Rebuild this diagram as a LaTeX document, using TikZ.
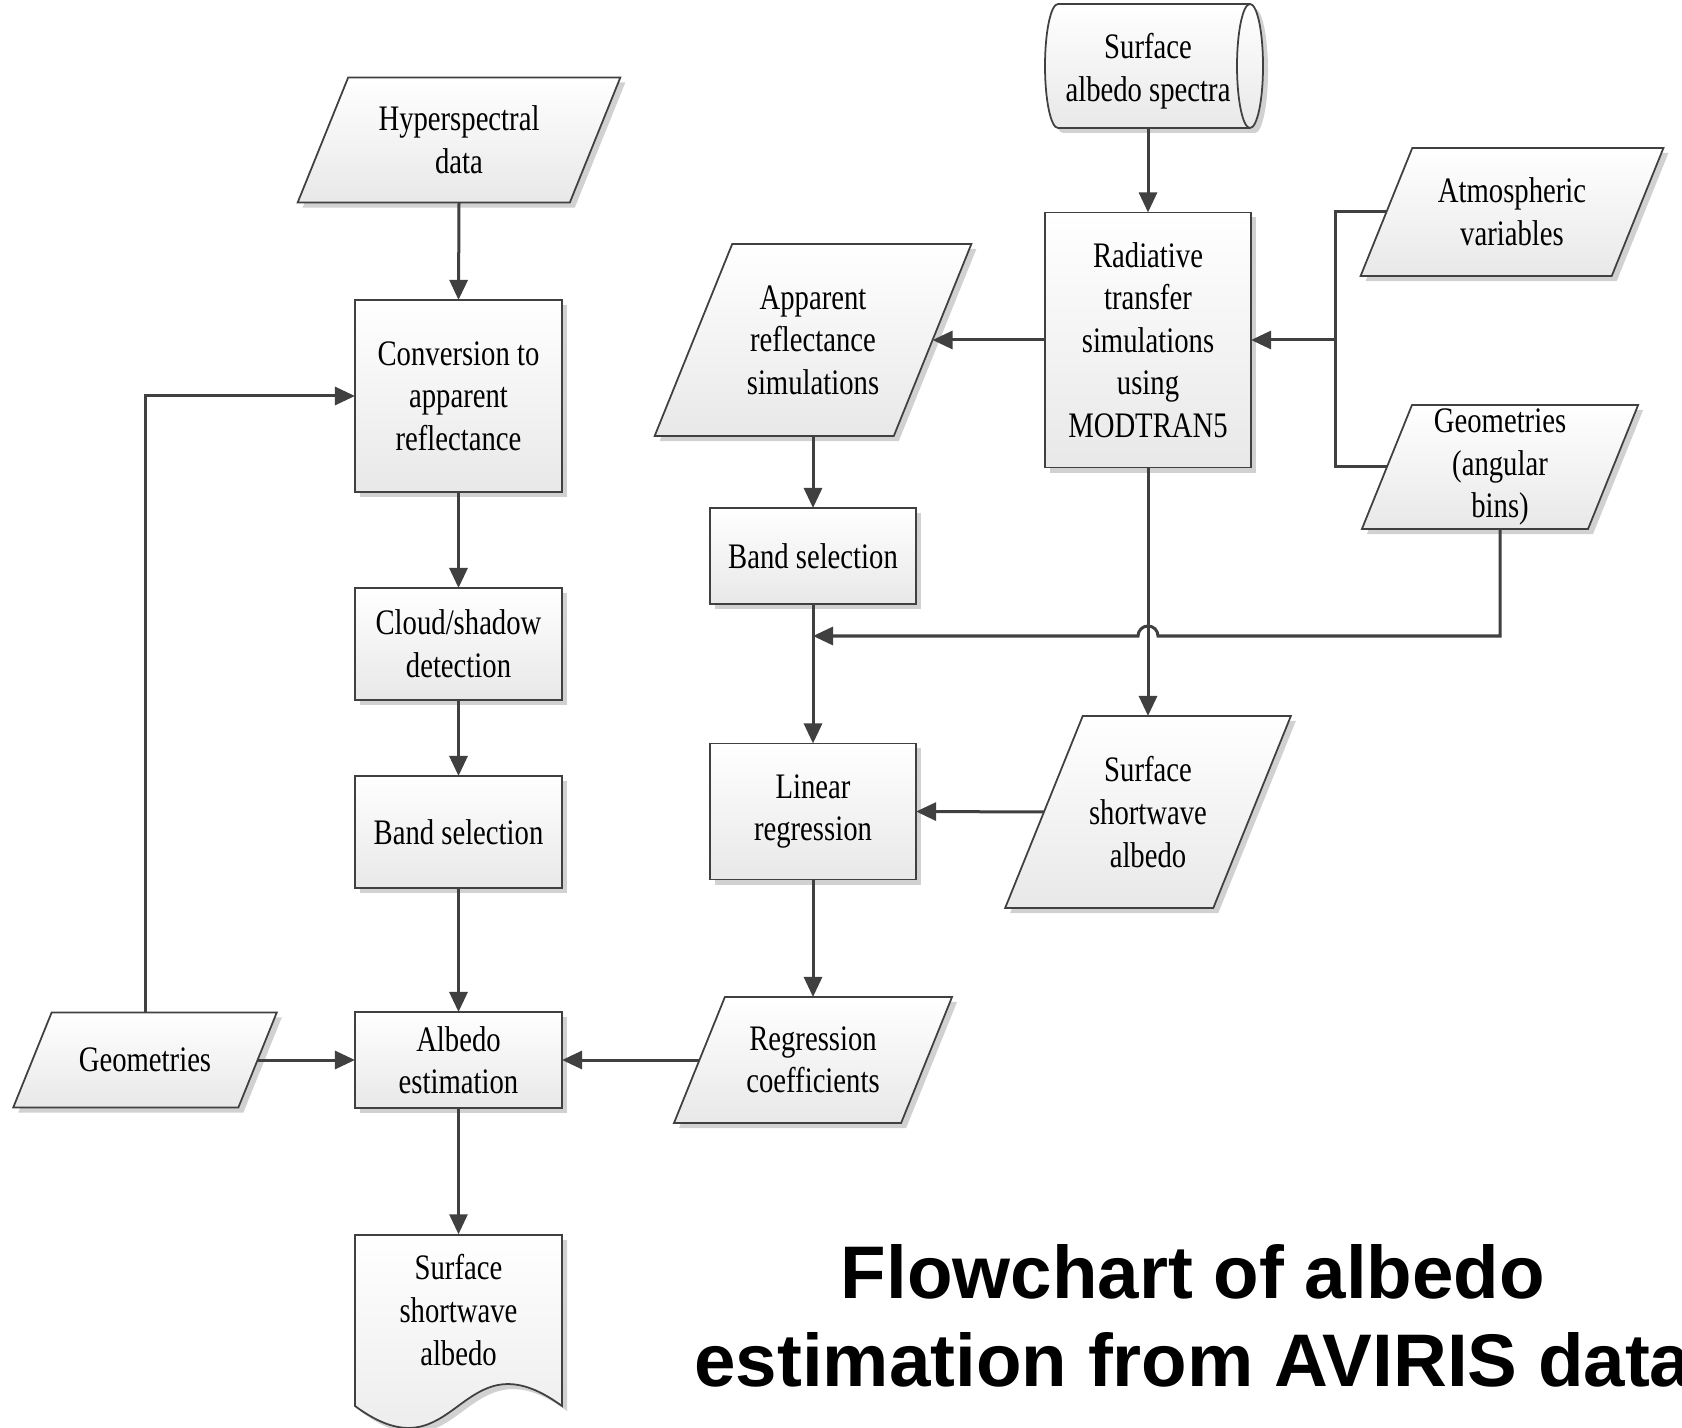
\documentclass[tikz,border=0pt]{standalone}
\usepackage{fontspec}
\setmainfont{Liberation Serif}[FakeStretch=0.8]
\newfontfamily\titlefont{Liberation Sans}
\usetikzlibrary{arrows.meta,shadows,backgrounds,calc}
\definecolor{linegray}{HTML}{404040}

\begin{document}
\begin{tikzpicture}[
    x=0.01cm, y=-0.01cm,
    font=\fontsize{10.2pt}{12.1pt}\selectfont,
    boxfill/.style={top color=white, bottom color=black!9, draw=linegray, line width=0.5pt,
        drop shadow={shadow xshift=0.05cm, shadow yshift=-0.05cm, fill=black!45, opacity=0.4}},
    process/.style={boxfill, rectangle, align=center, inner sep=2pt, outer sep=0pt, minimum width=2.07cm},
    io/.style={rectangle, align=center, inner sep=0pt, outer sep=0pt},
    arrow/.style={-{Triangle[length=0.2cm, width=0.18cm]}, line width=0.03cm, draw=linegray},
    link/.style={line width=0.03cm, draw=linegray}
]
\useasboundingbox (0,0) rectangle (1682,1428);

% left column
\node[io, minimum width=2.72cm, minimum height=1.25cm] (hyper) at (459,140) {Hyperspectral\\data};
\node[process, minimum height=1.92cm] (conv) at (458.5,396) {Conversion to\\apparent\\reflectance};
\node[process, minimum height=1.12cm] (cloud) at (458.5,644) {Cloud/shadow\\detection};
\node[process, minimum height=1.12cm] (bandL) at (458.5,832) {Band selection};
\node[process, minimum height=0.96cm] (albest) at (458.5,1060) {Albedo\\estimation};
\node[io, minimum width=2.25cm, minimum height=0.95cm] (geoL) at (145,1060) {Geometries};

% output document
\path[boxfill] (355,1235) -- (562,1235) -- (562,1406) .. controls (458,1330) and (458,1482) .. (355,1406) -- cycle;
\node[align=center, minimum width=2.07cm, minimum height=1.5cm, inner sep=0pt] (albout) at (458.5,1310) {Surface\\shortwave\\albedo};

% spectra store
\path[boxfill] (1058,4) -- (1250,4) .. controls (1257.2,4) and (1263,31.8) .. (1263,66)
    .. controls (1263,100.2) and (1257.2,128) .. (1250,128) -- (1058,128)
    .. controls (1050.8,128) and (1045,100.2) .. (1045,66)
    .. controls (1045,31.8) and (1050.8,4) .. (1058,4) -- cycle;
\draw[linegray, line width=0.5pt] (1250,4) .. controls (1242.8,4) and (1237,31.8) .. (1237,66)
    .. controls (1237,100.2) and (1242.8,128) .. (1250,128);
\node[align=center, minimum width=1.8cm, minimum height=1.14cm, inner sep=0pt] (spectra) at (1148,71) {Surface\\albedo spectra};

% right part
\node[process, minimum width=2.06cm, minimum height=2.55cm] (rts) at (1148,340) {Radiative\\transfer\\simulations\\using\\MODTRAN5};
\node[io, minimum width=2.51cm, minimum height=1.28cm] (atmos) at (1512,212) {Atmospheric\\variables};
\node[io, minimum width=2.26cm, minimum height=1.24cm] (geoA) at (1500,467) {Geometries\\(angular\\bins)};
\node[io, minimum width=2.39cm, minimum height=1.92cm] (appr) at (813,340) {Apparent\\reflectance\\simulations};
\node[process, minimum width=2.06cm, minimum height=0.96cm] (bandR) at (813,556) {Band selection};
\node[process, minimum width=2.06cm, minimum height=1.36cm] (linreg) at (813,811.5) {Linear\\regression};
\node[io, minimum width=2.08cm, minimum height=1.92cm] (sswa) at (1148,812) {Surface\\shortwave\\albedo};
\node[io, minimum width=2.27cm, minimum height=1.26cm] (regc) at (813,1060) {Regression\\coefficients};

\node[font=\titlefont\bfseries\fontsize{21.2pt}{25pt}\selectfont, align=center, anchor=south,
    inner sep=0pt, text depth=0pt] (title) at (1193,1387) {Flowchart of albedo\\estimation from AVIRIS data};

% slanted data boxes behind their texts
\begin{scope}[on background layer]
\fill[white] (0,0) rectangle (1682,1428);
\foreach \nd in {hyper,geoL,atmos,geoA,appr,sswa,regc}
  \path[boxfill] let \p1=(\nd.north), \p2=(\nd.south), \n1={0.202*(\y1-\y2)} in
    ([xshift=\n1]\nd.north west) -- ([xshift=\n1]\nd.north east)
    -- ([xshift=-\n1]\nd.south east) -- ([xshift=-\n1]\nd.south west) -- cycle;
\end{scope}

\coordinate (jn) at (1335,340);
\coordinate (merge) at (813,636);
\coordinate (hop) at (rts.south |- merge);

% connectors
\draw[arrow] (hyper.south) -- (conv.north);
\draw[arrow] (conv) -- (cloud);
\draw[arrow] (cloud) -- (bandL);
\draw[arrow] (bandL) -- (albest);
\draw[arrow] (albest) -- (albout);
\draw[arrow] (geoL.north) |- (conv.west);
\draw[arrow] (geoL.east) -- (albest.west);
\draw[arrow] (regc.west) -- (albest.east);
\draw[arrow] (spectra) -- (rts);
\draw[arrow] (rts.west) -- (appr.east);
\draw[link] (atmos.west) -| (jn) |- (geoA.west);
\draw[arrow] (jn) -- (rts.east);
\draw[arrow] (appr.south) -- (bandR.north);
\draw[arrow] (bandR) -- (linreg);
\draw[arrow] (rts) -- (sswa);
\draw[arrow] (geoA.south) |- ([xshift=0.1cm]hop) arc[start angle=0, end angle=-180, radius=10] -- (merge);
\draw[arrow] (sswa.west) -- (linreg.east);
\draw[arrow] (linreg) -- (regc);
\end{tikzpicture}
\end{document}
